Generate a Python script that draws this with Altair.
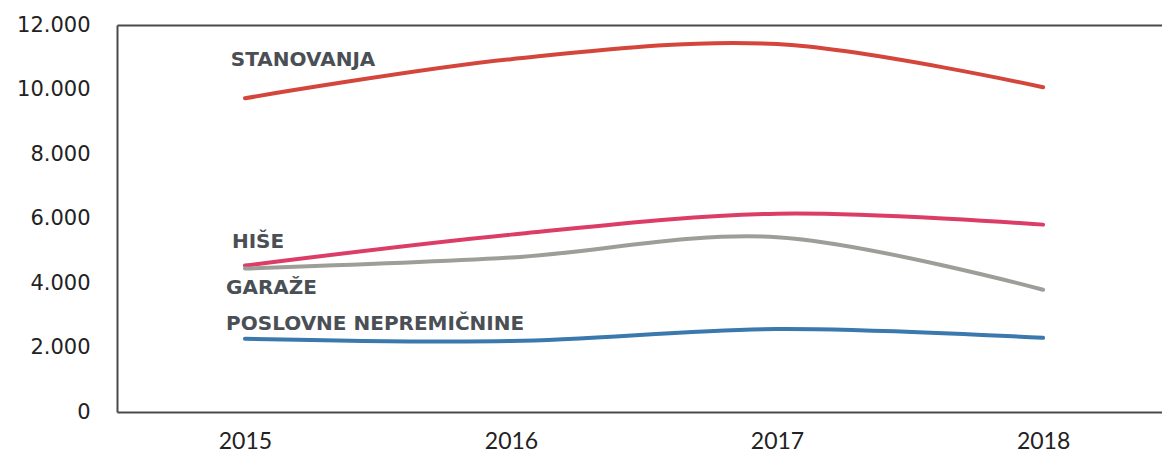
import altair as alt
import pandas as pd

years = [2015, 2016, 2017, 2018]
series_names = ["STANOVANJA", "HIŠE", "GARAŽE", "POSLOVNE NEPREMIČNINE"]
stanovanja = [9730, 10940, 11410, 10070]
hise = [4540, 5500, 6150, 5810]
garaze = [4450, 4790, 5420, 3790]
poslovne = [2270, 2200, 2570, 2300]
colors = ["#D4463C", "#DC3D67", "#9E9E98", "#3A78AE"]

# label anchors in data units (year, value)
label_x = [2014.947, 2014.951, 2014.929, 2014.929]
label_y = [10910, 5285, 3855, 2735]

y_ticks = [0, 2000, 4000, 6000, 8000, 10000, 12000]

rows = []
for name, vals in zip(series_names, [stanovanja, hise, garaze, poslovne]):
    for yr, v in zip(years, vals):
        rows.append({"series": name, "year": yr, "value": v})
df = pd.DataFrame(rows)
labels = pd.DataFrame({"series": series_names, "lx": label_x, "ly": label_y})

xscale = alt.Scale(domain=[2014.519, 2018.447], nice=False, zero=False)
yscale = alt.Scale(domain=[0, 12000], nice=False)
cscale = alt.Scale(domain=series_names, range=colors)

lines = alt.Chart(df).mark_line(
    interpolate="cardinal", tension=0, strokeWidth=4, strokeCap="round"
).encode(
    x=alt.X("year:Q", scale=xscale, axis=alt.Axis(
        values=years, format="d", title=None, ticks=False, grid=False,
        domain=True, domainColor="#4a4a4a", domainWidth=2,
        labelFont="Lato", labelFontSize=23, labelColor="#222222",
        labelPadding=18)),
    y=alt.Y("value:Q", scale=yscale, axis=alt.Axis(
        values=y_ticks, title=None, ticks=False, grid=False,
        domain=True, domainColor="#4a4a4a", domainWidth=2,
        labelExpr="replace(format(datum.value, ','), ',', '.')",
        labelFont="DejaVu Sans", labelFontSize=21, labelColor="#222222",
        labelPadding=27)),
    color=alt.Color("series:N", scale=cscale, legend=None),
    detail="series:N",
)

texts = alt.Chart(labels).mark_text(
    align="left", baseline="middle", font="DejaVu Sans", fontWeight="bold",
    fontSize=20, color="#4a4f55"
).encode(
    x=alt.X("lx:Q", scale=xscale, axis=alt.Axis(
        orient="top", labels=False, ticks=False, grid=False, title=None,
        domain=True, domainColor="#4a4a4a", domainWidth=2)),
    y=alt.Y("ly:Q", scale=yscale),
    text="series:N",
)

chart = alt.layer(lines, texts).resolve_axis(x="independent").properties(
    width=1045, height=387,
    autosize=alt.AutoSizeParams(type="none"),
    padding={"left": 117, "top": 25, "right": 0, "bottom": 41},
    background="white",
).configure_view(stroke=None)

chart.save("out.html", embed_options={"renderer": "svg", "actions": False})
